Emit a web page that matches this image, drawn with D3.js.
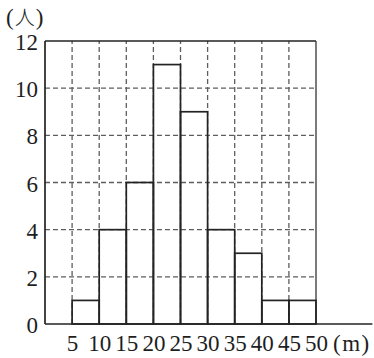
<!DOCTYPE html>
<html>
<head>
<meta charset="utf-8">
<script src="https://cdn.jsdelivr.net/npm/d3@7"></script>
<style>
  html, body { margin: 0; padding: 0; background: #fff; }
  svg { display: block; }
</style>
</head>
<body>
<svg id="chart" width="374" height="358"></svg>
<script>
// Histogram data: class intervals (m) and their frequencies (people)
const binStarts = [5, 10, 15, 20, 25, 30, 35, 40, 45];
const binEnds   = [10, 15, 20, 25, 30, 35, 40, 45, 50];
const counts    = [1, 4, 6, 11, 9, 4, 3, 1, 1];
const xTickValues = [5, 10, 15, 20, 25, 30, 35, 40, 45, 50];
const yTickValues = [0, 2, 4, 6, 8, 10, 12];
const yUnitLabel = "人";
const xUnitLabel = "m";

const serif = '"Liberation Serif", "Times New Roman", serif';
const cjk = '"Noto Sans CJK JP", sans-serif';

const svg = d3.select("#chart");

const x = d3.scaleLinear().domain([0, 60]).range([45, 370.2]);
const y = d3.scaleLinear().domain([0, 12]).range([324, 41]);

const xMax = 50, yMax = 12, axisEnd = 60.4;
const gridColor = "#5e5e5e";
const lineColor = "#232323";

// Dashed grid: horizontal lines at each y tick, vertical lines at each x tick
const grid = svg.append("g");
grid.selectAll("line.h")
  .data(yTickValues.filter(v => v > 0 && v < yMax))
  .join("line")
  .attr("x1", x(0)).attr("x2", x(xMax))
  .attr("y1", d => y(d)).attr("y2", d => y(d))
  .attr("stroke", gridColor).attr("stroke-width", 1.3)
  .attr("stroke-dasharray", "5,3");
grid.selectAll("line.v")
  .data(xTickValues.filter(v => v < xMax))
  .join("line")
  .attr("x1", d => x(d)).attr("x2", d => x(d))
  .attr("y1", y(0)).attr("y2", y(yMax))
  .attr("stroke", gridColor).attr("stroke-width", 1.3)
  .attr("stroke-dasharray", "5,3");

// Frame: top edge and right edge of the grid area
svg.append("line")
  .attr("x1", x(0)).attr("x2", x(xMax))
  .attr("y1", y(yMax)).attr("y2", y(yMax))
  .attr("stroke", lineColor).attr("stroke-width", 1.6);
svg.append("line")
  .attr("x1", x(xMax)).attr("x2", x(xMax))
  .attr("y1", y(0)).attr("y2", y(yMax))
  .attr("stroke", lineColor).attr("stroke-width", 1.2);

// Histogram bars (outline only)
svg.append("g").selectAll("rect")
  .data(counts.map((c, i) => ({ a: binStarts[i], b: binEnds[i], c })))
  .join("rect")
  .attr("x", d => x(d.a))
  .attr("y", d => y(d.c))
  .attr("width", d => x(d.b) - x(d.a))
  .attr("height", d => y(0) - y(d.c))
  .attr("fill", "none")
  .attr("stroke", lineColor).attr("stroke-width", 1.7);

// Axis lines
svg.append("line")
  .attr("x1", x(0)).attr("x2", x(0))
  .attr("y1", y(0)).attr("y2", y(yMax))
  .attr("stroke", lineColor).attr("stroke-width", 1.7);
svg.append("line")
  .attr("x1", x(0)).attr("x2", x(axisEnd))
  .attr("y1", y(0)).attr("y2", y(0))
  .attr("stroke", lineColor).attr("stroke-width", 1.7);

// Y tick labels
const yAxis = d3.axisLeft(y).tickValues(yTickValues).tickSize(0).tickPadding(7);
const gy = svg.append("g").attr("transform", `translate(${x(0)},0)`).call(yAxis);
gy.select(".domain").remove();
gy.selectAll("text")
  .style("font-family", serif).style("font-size", "23px").style("fill", "#1e1e1e")
  .attr("dy", "0.37em");

// X tick labels
const xAxis = d3.axisBottom(x).tickValues(xTickValues).tickSize(0).tickPadding(11);
const gx = svg.append("g").attr("transform", `translate(0,${y(0)})`).call(xAxis);
gx.select(".domain").remove();
gx.selectAll("text")
  .style("font-family", serif).style("font-size", "23px").style("fill", "#1e1e1e");

// Unit labels
const yl = svg.append("text").attr("x", 6).attr("y", 25)
  .style("font-family", serif).style("font-size", "23px").style("fill", "#1e1e1e")
  .attr("letter-spacing", 1);
yl.append("tspan").text("(");
yl.append("tspan").style("font-family", cjk).style("font-size", "20px")
  .style("font-weight", 300).text(yUnitLabel);
yl.append("tspan").text(")");

svg.append("text").attr("x", 333).attr("y", 351)
  .style("font-family", serif).style("font-size", "23px").style("fill", "#1e1e1e")
  .attr("letter-spacing", 1.5)
  .text(`(${xUnitLabel})`);
</script>
</body>
</html>
